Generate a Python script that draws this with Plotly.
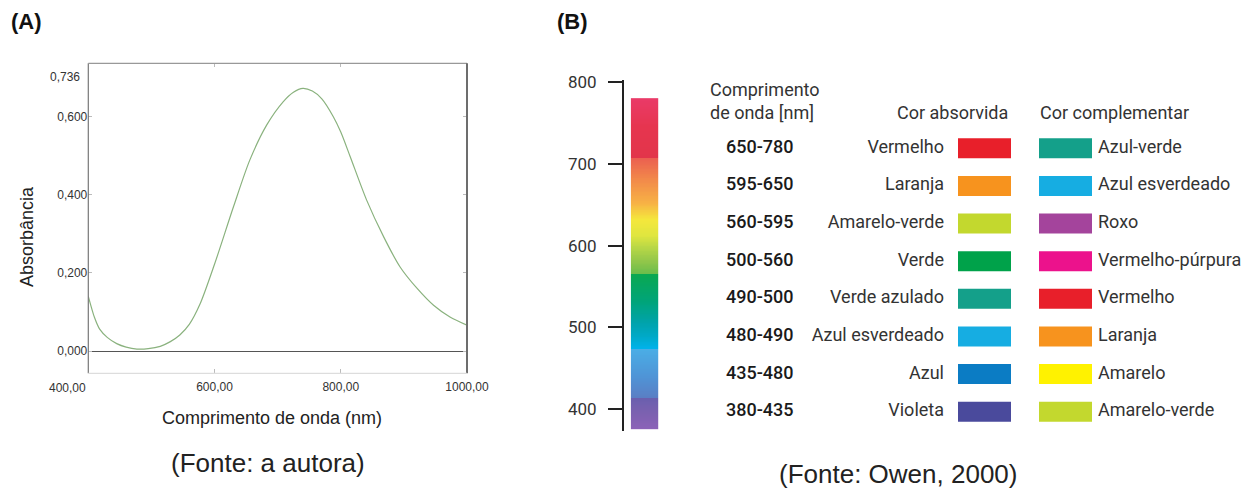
import numpy as np
import plotly.graph_objects as go

# ---------------- Panel A data (absorption spectrum) ----------------
wavelength_nm = [400, 410, 418, 430, 445, 460, 477, 495, 514, 530, 545, 560, 577, 600,
                 630, 656, 683, 709, 725, 740, 755, 770, 788, 800, 815, 841, 868, 894,
                 921, 947, 973, 1000]
absorbance = [0.140, 0.085, 0.056, 0.035, 0.019, 0.010, 0.005, 0.006, 0.012, 0.024,
              0.041, 0.068, 0.120, 0.222, 0.369, 0.489, 0.579, 0.638, 0.662, 0.672,
              0.665, 0.645, 0.600, 0.560, 0.497, 0.386, 0.292, 0.215, 0.160, 0.117,
              0.087, 0.066]
x_tick_vals = [400, 600, 800, 1000]
x_tick_text = ["", "600,00", "800,00", "1000,00"]
y_tick_vals = [0.0, 0.2, 0.4, 0.6, 0.736]
y_tick_text = ["0,000", "0,200", "0,400", "0,600", ""]

# ---------------- Panel B data (spectrum bar + table) ----------------
bar_range_nm = [376, 780]
spectrum_stops = [
    (376, "#8c62b8"), (395, "#7c61b0"), (413.9, "#6a5fae"), (414, "#5a7ec4"),
    (440, "#4f94d6"), (474.4, "#4aaee6"), (474.5, "#00b2ea"), (490, "#00a9c6"),
    (505, "#00a3ad"), (531, "#00a47a"), (565.9, "#0aa850"), (566, "#6bbd4b"),
    (580, "#90c64a"), (598, "#b9d746"), (612, "#dfe63f"), (632, "#f5e73c"),
    (652, "#f7b145"), (680, "#f28a4a"), (706.8, "#eb5f50"), (707, "#e2354a"),
    (745, "#e6354f"), (780, "#ea3a68"),
]
axis_ticks_nm = [400, 500, 600, 700, 800]

ranges = ["650-780", "595-650", "560-595", "500-560", "490-500", "480-490", "435-480", "380-435"]
absorbed = ["Vermelho", "Laranja", "Amarelo-verde", "Verde", "Verde azulado",
            "Azul esverdeado", "Azul", "Violeta"]
absorbed_colors = ["#e81f2a", "#f7931e", "#c3d82e", "#00a24a", "#14a08a",
                   "#16ade2", "#0b7cc4", "#4a4a9c"]
complementary = ["Azul-verde", "Azul esverdeado", "Roxo", "Vermelho-púrpura",
                 "Vermelho", "Laranja", "Amarelo", "Amarelo-verde"]
complementary_colors = ["#14a08a", "#16ade2", "#a4449c", "#ec128c",
                        "#e81f2a", "#f7931e", "#fff200", "#c3d82e"]

# ---------------- layout constants ----------------
W, H = 1250, 490
def px(x):
    return x / W
def py(y):
    return 1 - y / H

ARIAL = "Liberation Sans, Arial, sans-serif"
ROBOTO = "Roboto, Liberation Sans, sans-serif"

fig = go.Figure()

# Panel A: spectrum line
fig.add_trace(go.Scatter(
    x=wavelength_nm, y=absorbance, mode="lines",
    line=dict(color="#8ab27e", width=1.2, shape="spline", smoothing=0.8),
    xaxis="x", yaxis="y", showlegend=False, hoverinfo="skip"))

# Panel B: colour bar as heatmap
lo, hi = bar_range_nm
edges = np.arange(lo, hi + 1, 1.0)
centers = (edges[:-1] + edges[1:]) / 2
colorscale = [[(w - lo) / (hi - lo), c] for w, c in spectrum_stops]
fig.add_trace(go.Heatmap(
    z=[[c] for c in centers], x=[-0.5, 0.5], y=edges,
    colorscale=colorscale, zmin=lo, zmax=hi, showscale=False,
    xaxis="x2", yaxis="y2", hoverinfo="skip"))

# Panel B: table
rows = list(range(len(ranges)))
COL_RANGE = 726
COL_ABS_TXT = 944
COL_SW1, COL_SW2, SW_W = 958, 1039, 53
COL_COMP_TXT = 1098

fig.add_trace(go.Scatter(
    x=[COL_RANGE] * len(rows), y=rows, text=ranges, mode="text",
    textposition="middle right",
    textfont=dict(family=ROBOTO, size=18, color="#1a1a1a", weight=500),
    xaxis="x3", yaxis="y3", showlegend=False, hoverinfo="skip"))
fig.add_trace(go.Scatter(
    x=[COL_ABS_TXT] * len(rows), y=rows, text=absorbed, mode="text",
    textposition="middle left",
    textfont=dict(family=ROBOTO, size=18, color="#333"),
    xaxis="x3", yaxis="y3", showlegend=False, hoverinfo="skip"))
fig.add_trace(go.Scatter(
    x=[COL_COMP_TXT] * len(rows), y=rows, text=complementary, mode="text",
    textposition="middle right",
    textfont=dict(family=ROBOTO, size=18, color="#333"),
    xaxis="x3", yaxis="y3", showlegend=False, hoverinfo="skip"))
fig.add_trace(go.Bar(
    x=[SW_W] * len(rows), base=[COL_SW1] * len(rows), y=rows, orientation="h",
    width=0.53, marker=dict(color=absorbed_colors, line=dict(width=0)),
    xaxis="x3", yaxis="y3", showlegend=False, hoverinfo="skip"))
fig.add_trace(go.Bar(
    x=[SW_W] * len(rows), base=[COL_SW2] * len(rows), y=rows, orientation="h",
    width=0.53, marker=dict(color=complementary_colors, line=dict(width=0)),
    xaxis="x3", yaxis="y3", showlegend=False, hoverinfo="skip"))

fig.update_layout(
    template="none",
    width=W, height=H, margin=dict(l=0, r=0, t=0, b=0, pad=0, autoexpand=False),
    paper_bgcolor="white", plot_bgcolor="white", barmode="overlay",
    showlegend=False,
    xaxis=dict(domain=[px(88.3), px(467)], range=[400, 1000], anchor="y",
               automargin=False,
               tickvals=x_tick_vals, ticktext=x_tick_text, ticks="inside",
               ticklen=4, tickcolor="#bbb", mirror="ticks", showline=False,
               showgrid=False, zeroline=False, ticklabelstandoff=5,
               tickfont=dict(family=ARIAL, size=12, color="#333")),
    yaxis=dict(domain=[py(373.3), py(63.3)], range=[-0.057, 0.736], anchor="x",
               automargin=False,
               tickvals=y_tick_vals, ticktext=y_tick_text, ticks="inside",
               ticklen=4, tickcolor="#bbb", mirror="ticks", showline=False,
               showgrid=False, zeroline=True, zerolinecolor="#555", zerolinewidth=1.2,
               tickfont=dict(family=ARIAL, size=12, color="#333")),
    xaxis2=dict(domain=[px(630.7), px(658.3)], range=[-0.5, 0.5], anchor="y2",
                visible=False, automargin=False),
    yaxis2=dict(domain=[py(431), py(80)], range=[373.5, 802.2], anchor="free",
                position=px(622.7), tickvals=axis_ticks_nm, ticks="outside",
                automargin=False,
                ticklen=14, tickwidth=1.5, tickcolor="#222", showline=True,
                linecolor="#222", linewidth=1.5, showgrid=False, zeroline=False,
                ticklabelstandoff=8,
                tickfont=dict(family=ROBOTO, size=17, color="#333")),
    xaxis3=dict(domain=[px(690), 1.0], range=[690, 1250], anchor="y3", visible=False,
                automargin=False),
    yaxis3=dict(domain=[py(430.5), py(129.5)], range=[7.5, -0.5], anchor="x3",
                visible=False, automargin=False),
)

# Frame of panel A
frame = [
    (0, 0, 0, 1, "#777", 1.2),
    (0, 1, 1, 1, "#999", 1.2),
    (1, 0, 1, 1, "#6d6d6d", 2),
    (0, 0, 1, 0, "#ddd", 1.2),
]
for x0, y0, x1, y1, col, wd in frame:
    fig.add_shape(type="line", xref="x domain", yref="y domain",
                  x0=x0, y0=y0, x1=x1, y1=y1, line=dict(color=col, width=wd))

ann = []
ann.append(dict(text="<b>(A)</b>", x=px(9), y=py(22), xanchor="left", yanchor="middle",
                font=dict(family=ARIAL, size=22, color="#111")))
ann.append(dict(text="<b>(B)</b>", x=px(555), y=py(22), xanchor="left", yanchor="middle",
                font=dict(family=ARIAL, size=22, color="#111")))
ann.append(dict(text="0,736", x=px(82), y=0.736, yref="y", yshift=-14,
                xanchor="right", yanchor="middle",
                font=dict(family=ARIAL, size=12, color="#333")))
ann.append(dict(text="400,00", x=400, xref="x", y=py(388), xanchor="right",
                yanchor="middle", font=dict(family=ARIAL, size=12, color="#333")))
ann.append(dict(text="Absorbância", x=px(27), y=py(237), textangle=-90,
                xanchor="center", yanchor="middle",
                font=dict(family=ARIAL, size=18, color="#222")))
ann.append(dict(text="Comprimento de onda (nm)", x=px(272), y=py(418),
                xanchor="center", yanchor="middle",
                font=dict(family=ARIAL, size=18, color="#222")))
ann.append(dict(text="(Fonte: a autora)", x=px(268), y=py(463),
                xanchor="center", yanchor="middle",
                font=dict(family=ARIAL, size=26, color="#222")))
ann.append(dict(text="(Fonte: Owen, 2000)", x=px(898), y=py(474),
                xanchor="center", yanchor="middle",
                font=dict(family=ARIAL, size=26, color="#222")))
ann.append(dict(text="Comprimento<br>de onda [nm]", x=px(708), y=py(101),
                xanchor="left", yanchor="middle", align="left",
                font=dict(family=ROBOTO, size=18, color="#333")))
ann.append(dict(text="Cor absorvida", x=px(1010), y=py(112.7),
                xanchor="right", yanchor="middle",
                font=dict(family=ROBOTO, size=18, color="#333")))
ann.append(dict(text="Cor complementar", x=px(1038), y=py(112.7),
                xanchor="left", yanchor="middle",
                font=dict(family=ROBOTO, size=18, color="#333")))
for a in ann:
    a.setdefault("xref", "paper")
    a.setdefault("yref", "paper")
    a["showarrow"] = False
    fig.add_annotation(**a)

fig.write_html(
    "out.html",
    config={"displayModeBar": False},
    post_script="document.body.style.margin='0';document.body.style.overflow='hidden';",
)
